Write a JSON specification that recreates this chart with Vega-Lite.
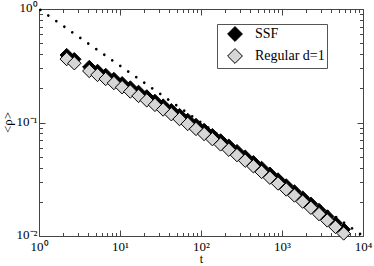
{
  "$schema": "https://vega.github.io/schema/vega-lite/v6.json",
  "width": 324,
  "height": 227,
  "autosize": "none",
  "padding": {"left": 39, "top": 9, "right": 11, "bottom": 30},
  "background": "white",
  "config": {
    "view": {"stroke": null},
    "font": "Liberation Serif",
    "axis": {
      "labelFont": "Liberation Serif",
      "titleFont": "Liberation Serif",
      "labelColor": "black",
      "titleColor": "black",
      "domainColor": "#444",
      "tickColor": "#444",
      "domainWidth": 1,
      "tickWidth": 1,
      "grid": false,
      "titleFontWeight": "normal",
      "labelFlush": false,
      "labelOverlap": false,
      "labelBound": false
    }
  },
  "datasets": {
    "fit": [{"t": 1, "p": 1}, {"t": 10000, "p": 0.01}],
    "pts": [
      {"t": 2.198, "p": 0.3926, "s": "SSF"},
      {"t": 2.729, "p": 0.3606, "s": "SSF"},
      {"t": 4.178, "p": 0.3083, "s": "SSF"},
      {"t": 5.276, "p": 0.2847, "s": "SSF"},
      {"t": 6.662, "p": 0.2622, "s": "SSF"},
      {"t": 8.414, "p": 0.2414, "s": "SSF"},
      {"t": 10.62, "p": 0.2217, "s": "SSF"},
      {"t": 13.41, "p": 0.2033, "s": "SSF"},
      {"t": 16.94, "p": 0.1859, "s": "SSF"},
      {"t": 21.39, "p": 0.1699, "s": "SSF"},
      {"t": 27.01, "p": 0.1549, "s": "SSF"},
      {"t": 34.10, "p": 0.1410, "s": "SSF"},
      {"t": 43.05, "p": 0.1281, "s": "SSF"},
      {"t": 54.37, "p": 0.1162, "s": "SSF"},
      {"t": 68.65, "p": 0.1052, "s": "SSF"},
      {"t": 86.69, "p": 0.09513, "s": "SSF"},
      {"t": 109.4, "p": 0.08584, "s": "SSF"},
      {"t": 138.2, "p": 0.07733, "s": "SSF"},
      {"t": 174.5, "p": 0.06951, "s": "SSF"},
      {"t": 220.3, "p": 0.06240, "s": "SSF"},
      {"t": 278.2, "p": 0.05592, "s": "SSF"},
      {"t": 351.3, "p": 0.04998, "s": "SSF"},
      {"t": 443.6, "p": 0.04463, "s": "SSF"},
      {"t": 560.1, "p": 0.03977, "s": "SSF"},
      {"t": 707.3, "p": 0.03539, "s": "SSF"},
      {"t": 893.2, "p": 0.03145, "s": "SSF"},
      {"t": 1128, "p": 0.02787, "s": "SSF"},
      {"t": 1424, "p": 0.02466, "s": "SSF"},
      {"t": 1798, "p": 0.02179, "s": "SSF"},
      {"t": 2271, "p": 0.01922, "s": "SSF"},
      {"t": 2867, "p": 0.01692, "s": "SSF"},
      {"t": 3620, "p": 0.01486, "s": "SSF"},
      {"t": 4571, "p": 0.01304, "s": "SSF"},
      {"t": 5771, "p": 0.01141, "s": "SSF"},
      {"t": 2.198, "p": 0.3622, "s": "Regular d=1"},
      {"t": 2.729, "p": 0.3327, "s": "Regular d=1"},
      {"t": 4.178, "p": 0.2844, "s": "Regular d=1"},
      {"t": 5.276, "p": 0.2626, "s": "Regular d=1"},
      {"t": 6.662, "p": 0.2419, "s": "Regular d=1"},
      {"t": 8.414, "p": 0.2227, "s": "Regular d=1"},
      {"t": 10.62, "p": 0.2045, "s": "Regular d=1"},
      {"t": 13.41, "p": 0.1875, "s": "Regular d=1"},
      {"t": 16.94, "p": 0.1715, "s": "Regular d=1"},
      {"t": 21.39, "p": 0.1567, "s": "Regular d=1"},
      {"t": 27.01, "p": 0.1429, "s": "Regular d=1"},
      {"t": 34.10, "p": 0.1301, "s": "Regular d=1"},
      {"t": 43.05, "p": 0.1182, "s": "Regular d=1"},
      {"t": 54.37, "p": 0.1072, "s": "Regular d=1"},
      {"t": 68.65, "p": 0.09709, "s": "Regular d=1"},
      {"t": 86.69, "p": 0.08776, "s": "Regular d=1"},
      {"t": 109.4, "p": 0.07919, "s": "Regular d=1"},
      {"t": 138.2, "p": 0.07134, "s": "Regular d=1"},
      {"t": 174.5, "p": 0.06412, "s": "Regular d=1"},
      {"t": 220.3, "p": 0.05756, "s": "Regular d=1"},
      {"t": 278.2, "p": 0.05159, "s": "Regular d=1"},
      {"t": 351.3, "p": 0.04611, "s": "Regular d=1"},
      {"t": 443.6, "p": 0.04117, "s": "Regular d=1"},
      {"t": 560.1, "p": 0.03669, "s": "Regular d=1"},
      {"t": 707.3, "p": 0.03265, "s": "Regular d=1"},
      {"t": 893.2, "p": 0.02901, "s": "Regular d=1"},
      {"t": 1128, "p": 0.02571, "s": "Regular d=1"},
      {"t": 1424, "p": 0.02275, "s": "Regular d=1"},
      {"t": 1798, "p": 0.02010, "s": "Regular d=1"},
      {"t": 2271, "p": 0.01773, "s": "Regular d=1"},
      {"t": 2867, "p": 0.01561, "s": "Regular d=1"},
      {"t": 3620, "p": 0.01371, "s": "Regular d=1"},
      {"t": 4571, "p": 0.01203, "s": "Regular d=1"},
      {"t": 5771, "p": 0.01053, "s": "Regular d=1"}
    ]
  },
  "layer": [
    {
      "data": {"name": "fit"},
      "mark": {"type": "line", "color": "black", "strokeWidth": 2.7, "strokeCap": "round", "strokeDash": [0.01, 9.75], "strokeDashOffset": 8.16},
      "encoding": {
        "x": {
          "field": "t", "type": "quantitative",
          "scale": {"type": "log", "domain": [1, 10000], "nice": false},
          "axis": {
            "orient": "bottom",
            "values": [1,2,3,4,5,6,7,8,9,10,20,30,40,50,60,70,80,90,100,200,300,400,500,600,700,800,900,1000,2000,3000,4000,5000,6000,7000,8000,9000,10000],
            "tickSize": {"condition": {"test": "indexof([1,10,100,1000,10000], datum.value) >= 0", "value": -6}, "value": -3.5},
            "labelExpr": "datum.value == 1 ? '10⁰' : datum.value == 10 ? '10¹' : datum.value == 100 ? '10²' : datum.value == 1000 ? '10³' : datum.value == 10000 ? '10⁴' : ''",
            "labelPadding": 10,
            "labelFontSize": 13,
            "labelBaseline": "top",
            "labelAlign": "center",
            "title": "t",
            "titleFontSize": 12,
            "titleY": 29.5,
            "titleBaseline": "bottom"
          }
        },
        "y": {
          "field": "p", "type": "quantitative",
          "scale": {"type": "log", "domain": [0.01, 1], "nice": false},
          "axis": {
            "orient": "left",
            "values": [0.01,0.02,0.03,0.04,0.05,0.06,0.07,0.08,0.09,0.1,0.2,0.3,0.4,0.5,0.6,0.7,0.8,0.9,1],
            "tickSize": {"condition": {"test": "indexof([0.01,0.1,1], datum.value) >= 0", "value": -6}, "value": -3.5},
            "labelExpr": "datum.value == 1 ? '10⁰' : datum.value == 0.1 ? '10⁻¹' : datum.value == 0.01 ? '10⁻²' : ''",
            "labelPadding": 8,
            "labelFontSize": 13,
            "labelBaseline": "middle",
            "labelAlign": "right",
            "labelOffset": -1.5,
            "title": "<ρ>",
            "titleFontSize": 13,
            "titleAngle": 270,
            "titleX": -32,
            "titleY": 113,
            "titleAlign": "center",
            "titleBaseline": "middle"
          }
        }
      }
    },
    {
      "data": {"name": "pts"},
      "mark": {"type": "point", "shape": "diamond", "filled": true, "size": 180, "stroke": "black", "strokeWidth": 1, "opacity": 1},
      "encoding": {
        "x": {
          "field": "t", "type": "quantitative",
          "scale": {"type": "log", "domain": [1, 10000], "nice": false},
          "axis": {
            "orient": "top",
            "values": [1,2,3,4,5,6,7,8,9,10,20,30,40,50,60,70,80,90,100,200,300,400,500,600,700,800,900,1000,2000,3000,4000,5000,6000,7000,8000,9000,10000],
            "tickSize": {"condition": {"test": "indexof([1,10,100,1000,10000], datum.value) >= 0", "value": -6}, "value": -3.5},
            "labels": false,
            "title": null
          }
        },
        "y": {
          "field": "p", "type": "quantitative",
          "scale": {"type": "log", "domain": [0.01, 1], "nice": false},
          "axis": {
            "orient": "right",
            "values": [0.01,0.02,0.03,0.04,0.05,0.06,0.07,0.08,0.09,0.1,0.2,0.3,0.4,0.5,0.6,0.7,0.8,0.9,1],
            "tickSize": {"condition": {"test": "indexof([0.01,0.1,1], datum.value) >= 0", "value": -6}, "value": -3.5},
            "labels": false,
            "title": null
          }
        },
        "fill": {
          "field": "s", "type": "nominal",
          "scale": {"domain": ["SSF", "Regular d=1"], "range": ["black", "#d6d6d6"]},
          "legend": {
            "title": null,
            "orient": "none",
            "legendX": 178,
            "legendY": 15,
            "symbolType": "diamond",
            "symbolSize": 220,
            "symbolStrokeColor": "black",
            "symbolStrokeWidth": 1,
            "symbolOpacity": 1,
            "symbolOffset": 8,
            "labelOffset": 12,
            "labelFont": "Liberation Serif",
            "labelFontSize": 14,
            "labelColor": "black",
            "padding": 2,
            "rowPadding": 2,
            "strokeColor": "#555",
            "fillColor": "white"
          }
        }
      }
    }
  ],
  "resolve": {"axis": {"x": "independent", "y": "independent"}}
}
